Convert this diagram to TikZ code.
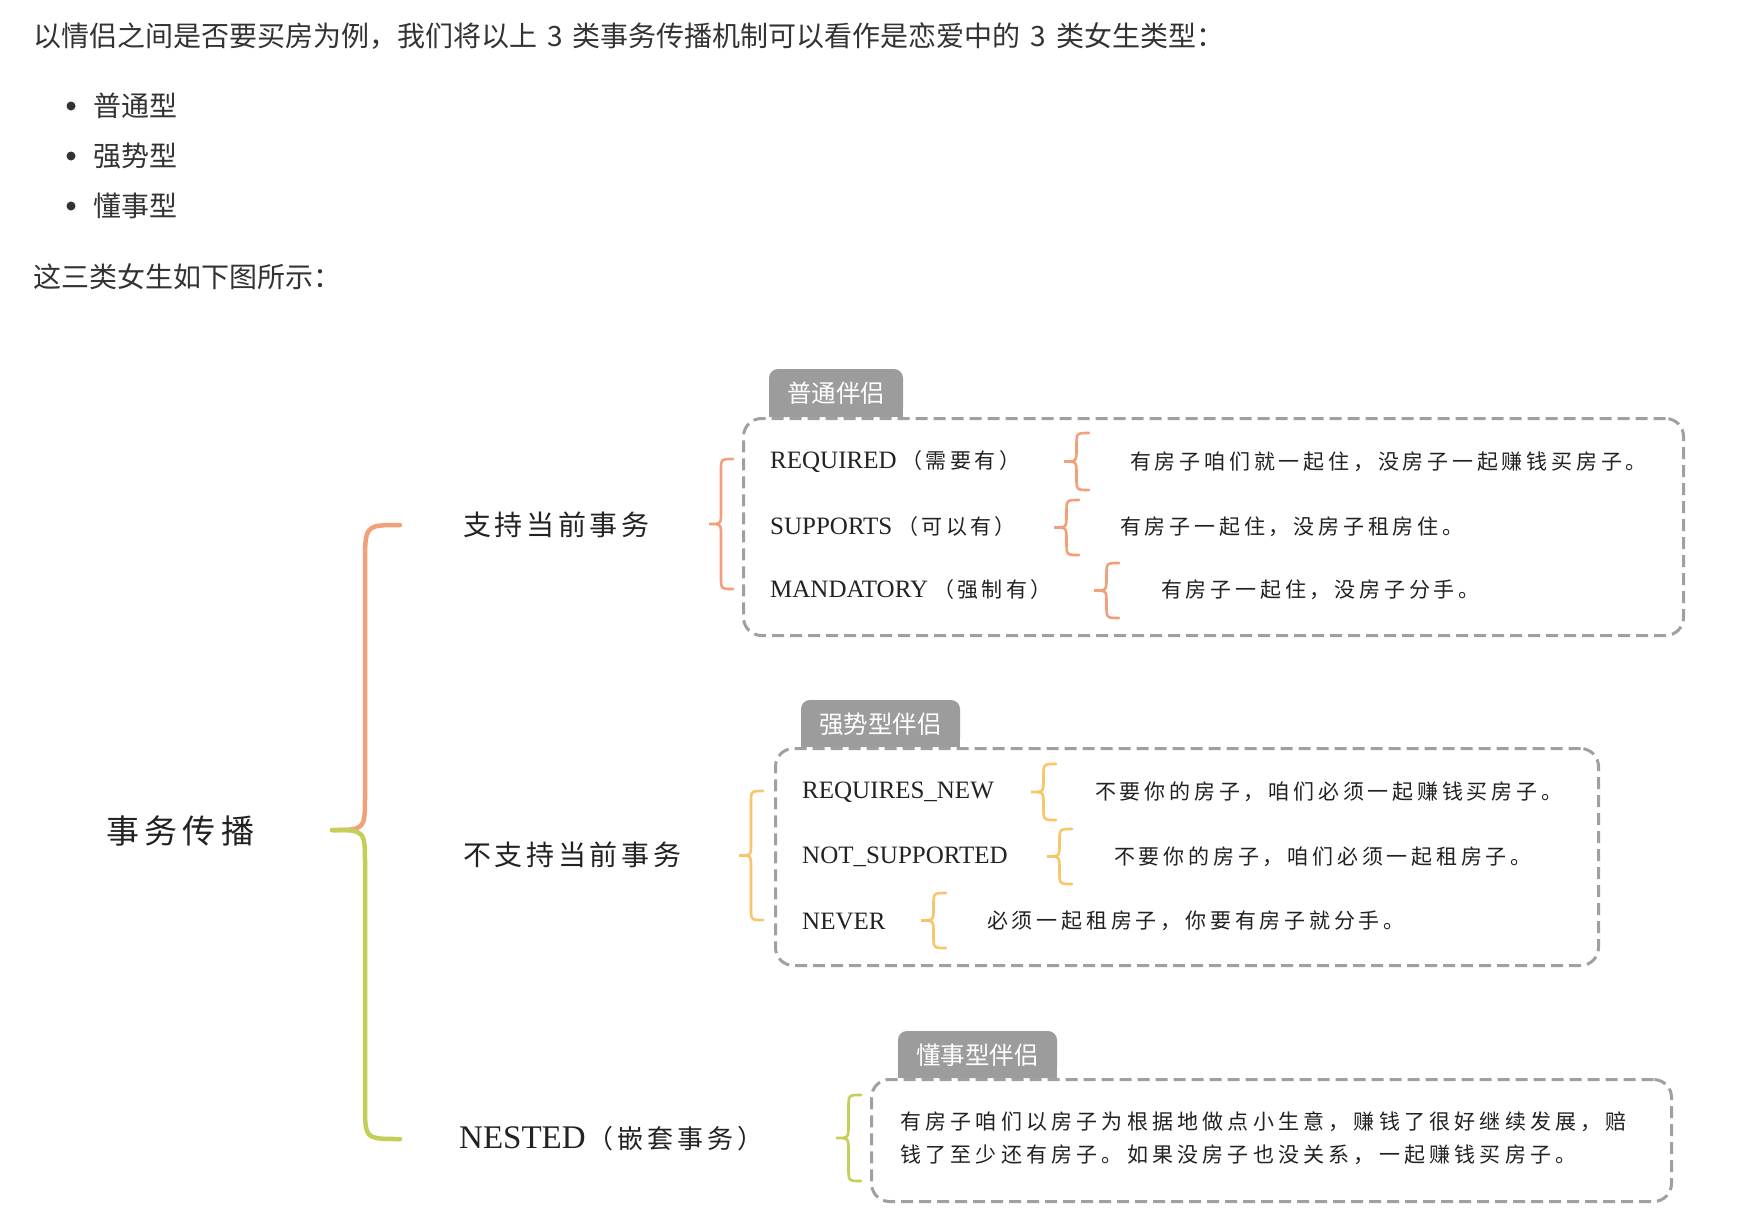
\documentclass[tikz,border=0pt]{standalone}
\usepackage{fontspec}
\setmainfont{Liberation Serif}
\newfontfamily\cjk{Noto Sans CJK SC}
\definecolor{txt}{HTML}{333333}
\definecolor{ink}{HTML}{222222}
\definecolor{bord}{HTML}{A0A0A0}
\definecolor{tabg}{HTML}{9C9C9C}
\definecolor{corange}{HTML}{F2A07A}
\definecolor{cyellow}{HTML}{F8C46C}
\definecolor{cgreen}{HTML}{C5CE58}
\newcommand\mybrace[5]{%
  \pgfmathsetmacro\bxr{#2+#5}%
  \pgfmathsetmacro\bxm{#2+#5/2}%
  \pgfmathsetmacro\bym{(#3+#4)/2}%
  \pgfmathsetmacro\br{#5/2}%
  \draw[#1, line width=2.6pt, line cap=round]
    (\bxr,#3) .. controls (\bxm,#3) .. (\bxm,{#3+\br}) -- (\bxm,{\bym-\br})
    .. controls (\bxm,\bym) .. (#2,\bym) .. controls (\bxm,\bym) .. (\bxm,{\bym+\br})
    -- (\bxm,{#4-\br}) .. controls (\bxm,#4) .. (\bxr,#4);
}
\newcommand\mytab[4]{% x1 y1 x2 y2
  \fill[tabg, rounded corners=9pt] (#1,#2) rectangle (#3,#4);
  \fill[tabg] (#1,{#4-14}) rectangle (#3,#4);
}
\newcommand\cp[1]{{\cjk\fontsize{21}{25}\selectfont\addfontfeatures{LetterSpace=16}#1}}
\newcommand\hsp{\hspace{10pt}}
\tikzset{
  header/.style={anchor=west, inner sep=0pt, text=txt, font=\cjk\fontsize{28}{34}\selectfont},
  item/.style={anchor=west, inner sep=0pt, text=ink, font=\fontsize{25}{30}\selectfont},
  desc/.style={anchor=west, inner sep=0pt, text=ink, font=\cjk\fontsize{21}{26}\selectfont\addfontfeatures{LetterSpace=18}},
  cat/.style={anchor=west, inner sep=0pt, text=ink, font=\cjk\fontsize{28}{34}\selectfont\addfontfeatures{LetterSpace=13}},
  dbox/.style={draw=bord, line width=3pt, dash pattern=on 12pt off 6pt, rounded corners=18pt, anchor=north west, inner sep=0pt},
  tablabel/.style={inner sep=0pt, text=white, font=\cjk\fontsize{24.5}{28}\selectfont},
}
\begin{document}
\begin{tikzpicture}[x=1pt,y=-1pt]
\useasboundingbox (0,0) rectangle (1742,1218);
\fill[white] (0,0) rectangle (1742,1218);

% header text
\node[header] (h1) at (33,36) {以情侣之间是否要买房为例，我们将以上{\hsp}3{\hsp}类事务传播机制可以看作是恋爱中的{\hsp}3{\hsp}类女生类型：};
\fill[txt] (71,106) circle (4.5);
\fill[txt] (71,156) circle (4.5);
\fill[txt] (71,206) circle (4.5);
\node[header] (l1) at (93,106) {普通型};
\node[header] (l2) at (93,156) {强势型};
\node[header] (l3) at (93,206) {懂事型};
\node[header] (h2) at (33,277) {这三类女生如下图所示：};

% root
\node[anchor=west, inner sep=0pt, text=ink, font=\cjk\fontsize{33}{40}\selectfont\addfontfeatures{LetterSpace=16}] (root) at (106,831) {事务传播};

% big brace
\draw[corange, line width=4.5pt, line cap=round] (400,525) .. controls (365,525) .. (365,565) -- (365,795) .. controls (365,830) .. (332,830);
\draw[cgreen, line width=4.5pt, line cap=round] (332,830) .. controls (365,830) .. (365,865) -- (365,1104) .. controls (365,1139) .. (400,1139);

% categories
\node[cat] (sup) at (463,525) {支持当前事务};
\node[cat] (nsup) at (463,855) {不支持当前事务};
\node[item] (nested) at (459,1139) {{\fontsize{33}{40}\selectfont NESTED}\hspace{2pt}{\cjk\fontsize{26}{30}\selectfont\addfontfeatures{LetterSpace=15}（嵌套事务）}};

% ---- box 1
\node[dbox, minimum width=940pt, minimum height=217pt] (b1) at (742,417) {};
\mytab{769}{369}{903}{417}
\node[tablabel] (t1) at (836,393) {普通伴侣};
\mybrace{corange}{709}{459}{589}{24}
\node[item] (r11) at (770,462) {REQUIRED\hspace{5pt}\cp{（需要有）}};
\node[item] (r12) at (770,527) {SUPPORTS\hspace{5pt}\cp{（可以有）}};
\node[item] (r13) at (770,590) {MANDATORY\hspace{5pt}\cp{（强制有）}};
\mybrace{corange}{1064}{433}{490}{25}
\mybrace{corange}{1054}{500}{555}{25}
\mybrace{corange}{1094}{563}{618}{25}
\node[desc] (d11) at (1130,462) {有房子咱们就一起住，没房子一起赚钱买房子。};
\node[desc] (d12) at (1120,527) {有房子一起住，没房子租房住。};
\node[desc] (d13) at (1161,590) {有房子一起住，没房子分手。};

% ---- box 2
\node[dbox, minimum width=823pt, minimum height=217pt] (b2) at (774,747) {};
\mytab{801}{700}{960}{747}
\node[tablabel] (t2) at (880.5,724) {强势型伴侣};
\mybrace{cyellow}{739}{791}{920}{24}
\node[item] (r21) at (802,792) {REQUIRES\_NEW};
\node[item] (r22) at (802,857) {NOT\_SUPPORTED};
\node[item] (r23) at (802,921) {NEVER};
\mybrace{cyellow}{1031}{764}{820}{25}
\mybrace{cyellow}{1047}{829}{884}{25}
\mybrace{cyellow}{921}{893}{948}{25}
\node[desc] (d21) at (1095,792) {不要你的房子，咱们必须一起赚钱买房子。};
\node[desc] (d22) at (1114,857) {不要你的房子，咱们必须一起租房子。};
\node[desc] (d23) at (987,921) {必须一起租房子，你要有房子就分手。};

% ---- box 3
\node[dbox, minimum width=800pt, minimum height=122pt] (b3) at (870,1078) {};
\mytab{898}{1031}{1057}{1078}
\node[tablabel] (t3) at (977.5,1055) {懂事型伴侣};
\mybrace{cgreen}{836}{1095}{1181}{25}
\node[desc, font=\cjk\fontsize{21}{26}\selectfont\addfontfeatures{LetterSpace=20}] (d31) at (900,1122) {有房子咱们以房子为根据地做点小生意，赚钱了很好继续发展，赔};
\node[desc, font=\cjk\fontsize{21}{26}\selectfont\addfontfeatures{LetterSpace=20}] (d32) at (900,1155) {钱了至少还有房子。如果没房子也没关系，一起赚钱买房子。};
\end{tikzpicture}
\end{document}
